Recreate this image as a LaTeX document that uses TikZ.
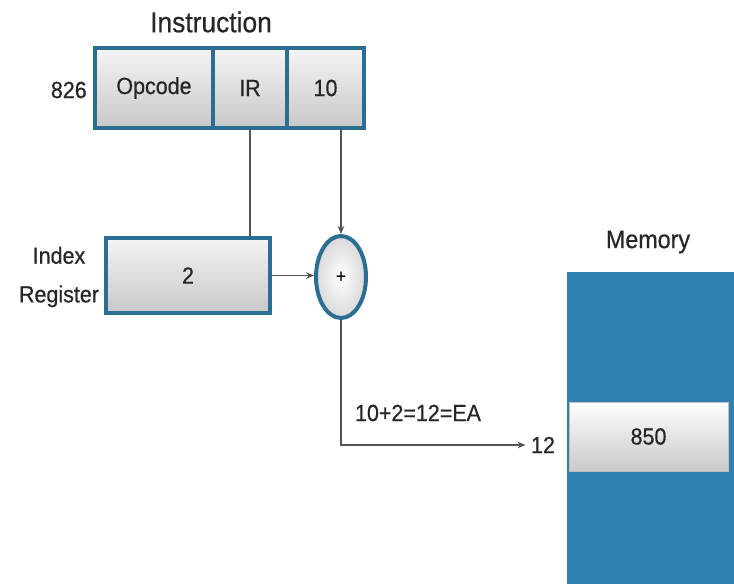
\documentclass[tikz,border=0pt]{standalone}
\usepackage{fontspec}
\setmainfont{Liberation Sans}[FakeStretch=0.92, FakeBold=0.6]
\usetikzlibrary{shapes.geometric,arrows.meta}
\definecolor{frameblue}{HTML}{2C6E93}
\definecolor{memblue}{HTML}{2F7FB0}
\definecolor{cellTop}{HTML}{F4F4F4}
\definecolor{cellBot}{HTML}{C9C9C9}
\definecolor{wire}{HTML}{555555}
\tikzset{
  cell/.style={draw=frameblue, line width=3pt, top color=cellTop, bottom color=cellBot,
    inner sep=0pt, font=\fontsize{17.5}{19}\selectfont, text=black!85},
  memcell/.style={draw=black!25, line width=0.6pt, top color=white, bottom color=cellBot,
    inner sep=0pt, font=\fontsize{17.5}{19}\selectfont, text=black!85,
    minimum width=119.25pt, minimum height=51.75pt},
  lbl/.style={font=\fontsize{17.5}{19}\selectfont, text=black!85, inner sep=0pt},
  title/.style={font=\fontsize{21.5}{23}\selectfont, text=black!85, inner sep=0pt},
  wireline/.style={draw=wire, line width=0.9pt},
  arr/.style={wireline, -{Stealth[length=6pt,width=5pt]}},
}
\begin{document}
\begin{tikzpicture}[x=0.75pt,y=-0.75pt]
\useasboundingbox (0,0) rectangle (734,584);
% Memory block
\fill[memblue] (567,272) rectangle (734,584);
\node[title, font=\fontsize{19}{21}\selectfont] (memt) at (648,242) {Memory};
\node[memcell] (m850) at (648.5,436.5) {850};
% Instruction
\node[title] (instr) at (211,22) {Instruction};
\node[cell, minimum width=88.5pt, minimum height=60pt] (opc) at (154,88) {Opcode};
\node[cell, minimum width=55.5pt, minimum height=60pt] (ir) at (250,88) {IR};
\node[cell, minimum width=57.75pt, minimum height=60pt] (ten) at (325.5,88) {10};
\node[lbl, anchor=east] (addr) at (87,90) {826};
% Index register
\node[cell, minimum width=123pt, minimum height=56.25pt] (idx) at (188,275.5) {2};
\node[lbl, align=center, font=\fontsize{17.5}{29}\selectfont] (idxl) at (59,277) {Index\\Register};
% Adder
\node[ellipse, draw=frameblue, line width=3pt, inner color=white, outer color=cellBot!70,
  minimum width=37.5pt, minimum height=61.5pt, inner sep=0pt, font=\fontsize{14}{16}\selectfont] (plus) at (341,277) {+};
% Connectors
\draw[wireline] (ir.south) -- (ir.south |- idx.north);
\draw[arr] (ten.south -| plus.north) -- (plus.north);
\draw[arr] (idx.east) -- (plus.west |- idx.east);
\node[lbl] (twelve) at (543,445) {12};
\coordinate (bend) at (341,445);
\draw[arr] (plus.south) -- (bend) -- ([xshift=-4pt]twelve.west);
\node[lbl] (ea) at (418,413) {10+2=12=EA};
\end{tikzpicture}
\end{document}
